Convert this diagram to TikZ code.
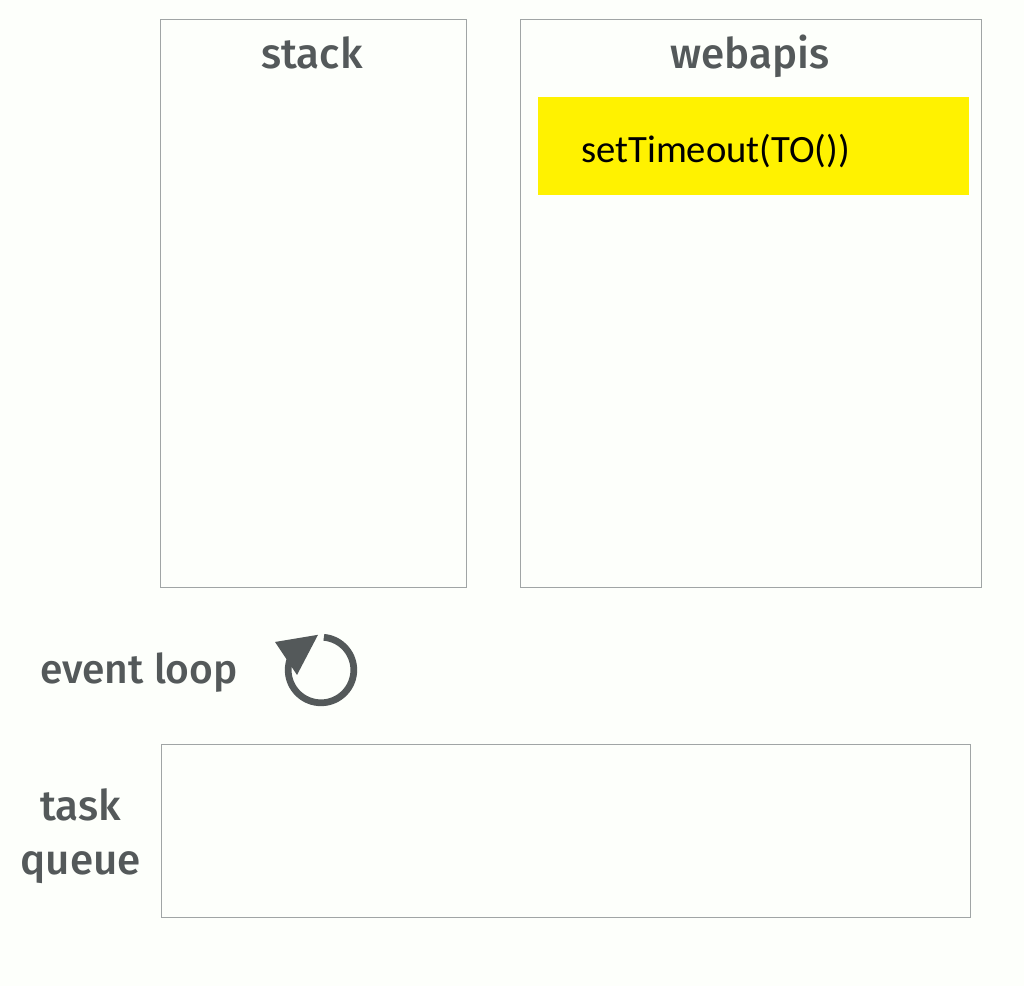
\documentclass[tikz,border=0pt]{standalone}
\usepackage{fontspec}
\setmainfont{Carlito}
\newfontfamily\headfont{Fira Sans Medium}
\usetikzlibrary{positioning}
\definecolor{paper}{RGB}{253,255,251}
\definecolor{slate}{RGB}{84,89,90}
\definecolor{frame}{RGB}{160,165,165}
\definecolor{mark}{RGB}{255,242,0}

\begin{document}
\begin{tikzpicture}[
  panel/.style={draw=frame, line width=0.6pt, outer sep=0pt, inner sep=0pt},
  heading/.style={text=slate, font=\headfont\fontsize{30}{39}\selectfont, align=center},
]
\fill[paper] (0,0) rectangle (25.6,24.65);
\useasboundingbox (0,0) rectangle (25.6,24.65);
\node[panel, minimum width=7.65cm, minimum height=14.2cm] (stack) at (7.825,17.075) {};
\node[panel, minimum width=11.525cm, minimum height=14.2cm] (webapis) at (18.7625,17.075) {};
\node[panel, minimum width=20.225cm, minimum height=4.325cm] (queue) at (14.1375,3.8875) {};
\node[heading, anchor=base] (stacklabel) at (7.8,22.925) {stack};
\node[heading, anchor=base] (webapislabel) at (18.75,22.925) {webapis};
\node[heading, font=\headfont\fontsize{29}{39}\selectfont] (looplabel) at (3.475,7.825) {event loop};
\node[heading, left=0.38cm of queue.west, yshift=-0.14cm] (queuelabel) {task\\queue};
\node[fill=mark, outer sep=0pt, minimum width=10.775cm, minimum height=2.45cm] (timer) at (18.8375,21.0) {};
\node[anchor=west, font=\fontsize{27.5}{33}\selectfont, inner sep=0pt] (timertext) at ([xshift=1.075cm,yshift=-0.13cm]timer.west) {setTimeout(TO())};
% loop mark
\coordinate (loop) at (8.025,7.9);
\draw[slate, line width=4.8pt] ([shift={(85:0.82)}]loop) arc (85:-215:0.82);
\fill[slate] (6.875,8.6) -- (7.95,8.78) -- (7.425,7.775) -- cycle;
\end{tikzpicture}
\end{document}
